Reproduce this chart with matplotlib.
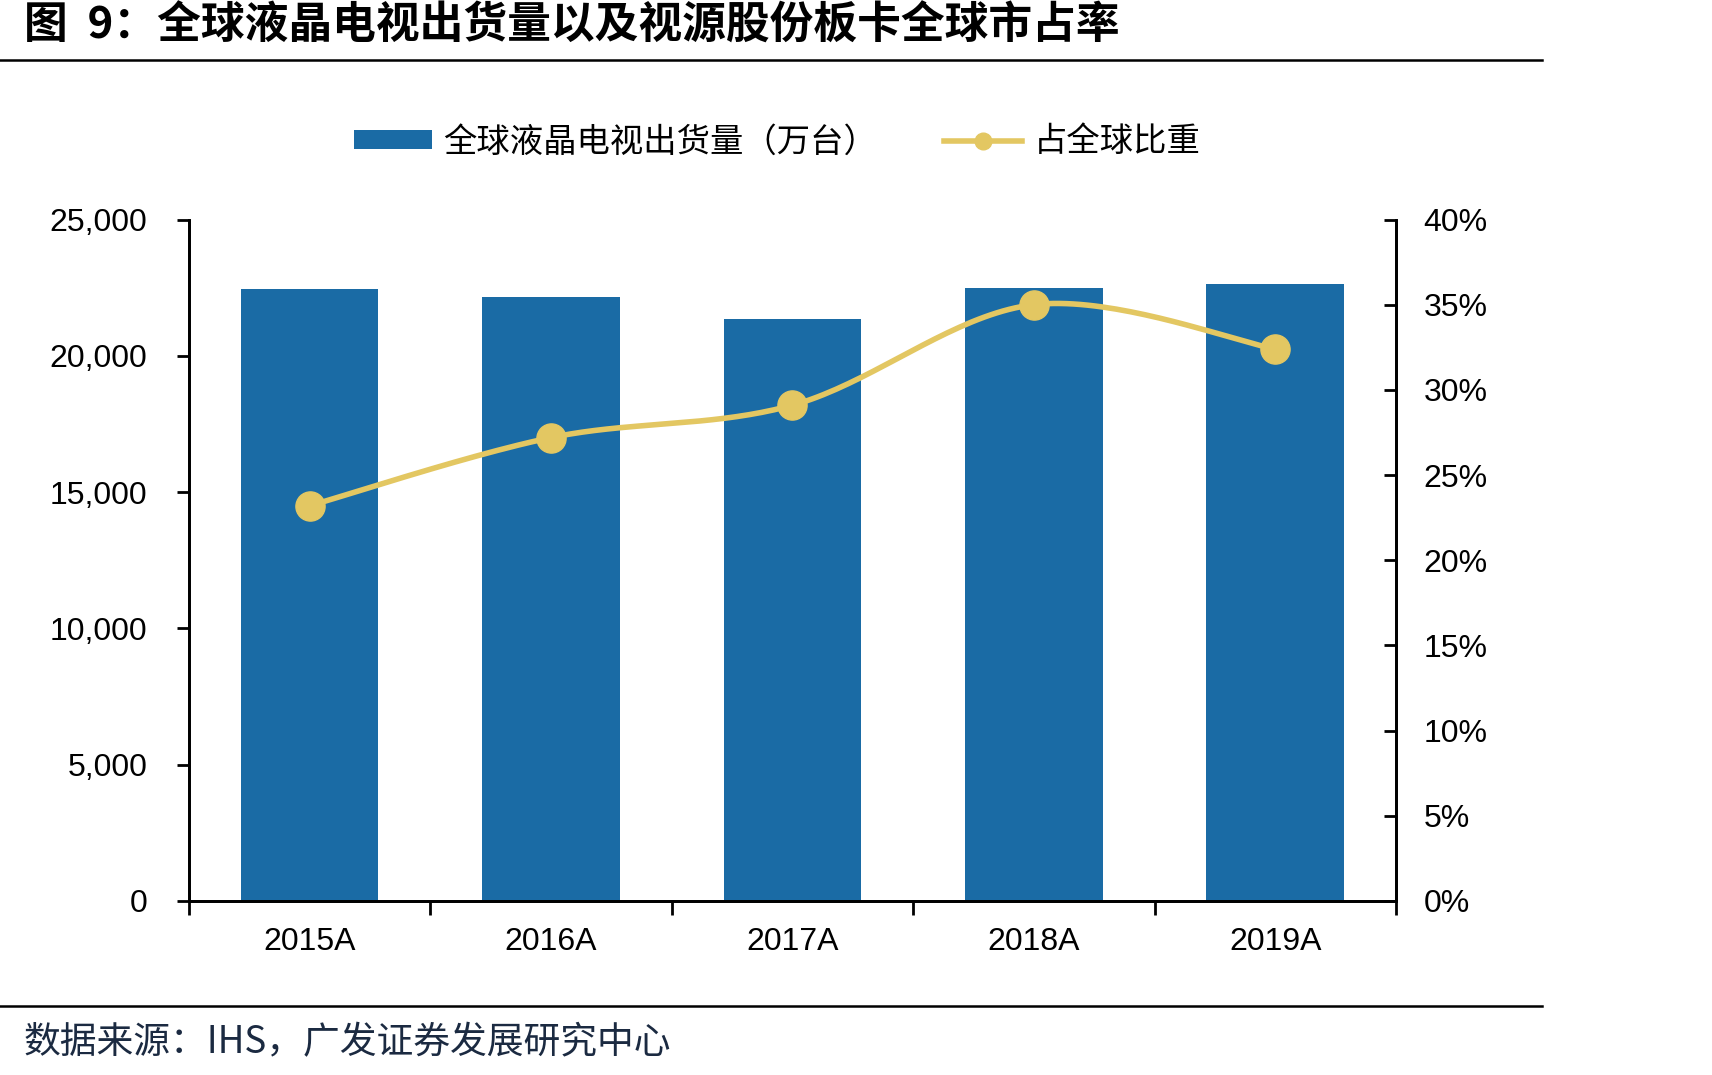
import numpy as np
import matplotlib
matplotlib.use("Agg")
import matplotlib.pyplot as plt
from matplotlib.ticker import FuncFormatter, FixedLocator
from matplotlib.lines import Line2D
from matplotlib.patches import Patch

# data
years = ["2015A", "2016A", "2017A", "2018A", "2019A"]
shipments = [22440, 22150, 21350, 22500, 22630]  # 万台
share = [23.2, 27.2, 29.1, 35.0, 32.4]  # %

title = "图  9：全球液晶电视出货量以及视源股份板卡全球市占率"
bar_label = "全球液晶电视出货量（万台）"
line_label = "占全球比重"
source = "数据来源：IHS，广发证券发展研究中心"

blue = "#1A6BA5"
gold = "#E3C762"
cjk = ["Noto Sans CJK SC", "DejaVu Sans"]
num_font = "Liberation Sans"
fs = 23


def smooth(xs, ys, n=40):
    # excel-like smoothed line (uniform Catmull-Rom through the points)
    xs = np.asarray(xs, float)
    ys = np.asarray(ys, float)
    px = np.concatenate([[xs[0]], xs, [xs[-1]]])
    py = np.concatenate([[ys[0]], ys, [ys[-1]]])
    outx, outy = [], []
    t = np.linspace(0, 1, n)
    for i in range(1, len(px) - 2):
        for p, out in ((px, outx), (py, outy)):
            p0, p1, p2, p3 = p[i - 1], p[i], p[i + 1], p[i + 2]
            c1 = p1 + (p2 - p0) / 6
            c2 = p2 - (p3 - p1) / 6
            seg = ((1 - t) ** 3 * p1 + 3 * (1 - t) ** 2 * t * c1
                   + 3 * (1 - t) * t ** 2 * c2 + t ** 3 * p2)
            out.extend(seg if i == 1 else seg[1:])
    return np.array(outx), np.array(outy)


fig = plt.figure(figsize=(17.12, 10.75), dpi=100)
ax = fig.add_axes([0.1104, 0.1619, 0.7050, 0.6339])
ax2 = ax.twinx()

x = np.arange(len(years))
ax.bar(x, shipments, width=0.57, color=blue, zorder=2)
ax.set_xlim(-0.5, len(years) - 0.5)
ax.set_ylim(0, 25000)
ax.set_yticks(np.arange(0, 25001, 5000))
ax.yaxis.set_major_formatter(FuncFormatter(lambda v, p: f"{int(v):,}"))

ax.set_xticks(x)
ax.set_xticklabels(years)
ax.xaxis.set_minor_locator(FixedLocator(np.arange(-0.5, len(years), 1.0)))
ax.tick_params(axis="x", which="major", length=0, pad=19)
ax.tick_params(axis="x", which="minor", length=10, width=2, direction="out")
ax.tick_params(axis="y", length=9, width=2, direction="out", pad=21)

sx, sy = smooth(x, share)
ax2.plot(sx, sy, color=gold, lw=4, solid_capstyle="round", zorder=3)
ax2.plot(x, share, "o", color=gold, ms=21, zorder=4)
ax2.set_ylim(0, 40)
ax2.set_yticks(np.arange(0, 41, 5))
ax2.yaxis.set_major_formatter(FuncFormatter(lambda v, p: f"{int(v)}%"))
ax2.tick_params(axis="y", length=9, width=2, direction="in", pad=20)

for a in (ax, ax2):
    a.spines["top"].set_visible(False)
    for s in ("left", "right", "bottom"):
        a.spines[s].set_linewidth(2)
        a.spines[s].set_color("black")
    for lab in a.get_xticklabels() + a.get_yticklabels():
        lab.set_fontfamily(num_font)
        lab.set_fontsize(fs)

# legend
handles = [Patch(facecolor=blue, edgecolor="none"),
           Line2D([], [], color=gold, lw=4, marker="o", ms=12)]
fig.legend(handles, [bar_label, line_label], loc="center",
           bbox_to_anchor=(0.454, 0.868), ncol=2, frameon=False,
           prop={"family": cjk, "size": 24}, handlelength=2.35,
           handleheight=0.5, handletextpad=0.35, columnspacing=2.0)

# title, rules, footer
fig.text(24 / 1712, 1 - 26 / 1075, title, fontsize=31.5, fontweight="bold",
         family=cjk, va="center", ha="left")
fig.add_artist(Line2D([0, 0.9007], [1 - 60 / 1075] * 2, color="black", lw=1.8))
fig.add_artist(Line2D([0, 0.9007], [1 - 1006 / 1075] * 2, color="black", lw=1.8))
fig.text(24 / 1712, 1 - 1043 / 1075, source, fontsize=26.5, family=cjk,
         color="#1B2A41", va="center", ha="left")

fig.savefig("out.png", dpi=100)
